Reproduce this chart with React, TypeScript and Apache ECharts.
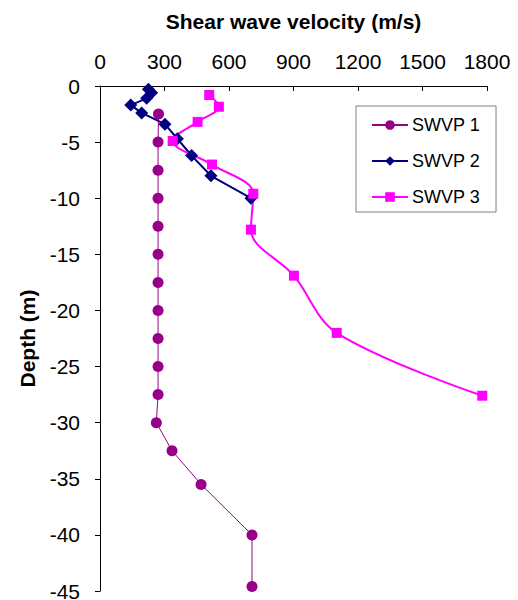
import React, { useEffect, useRef } from "react";
import * as echarts from "echarts";

const seriesNames = ["SWVP 1", "SWVP 2", "SWVP 3"];

// [velocity (m/s), depth (m)]
const swvp1: [number, number][] = [
  [272, -2.5], [270, -5], [270, -7.5], [270, -10], [270, -12.5], [270, -15],
  [270, -17.5], [270, -20], [270, -22.5], [270, -25], [270, -27.5], [262, -30],
  [335, -32.5], [470, -35.5], [707, -40], [707, -44.6],
];

const swvp2: [number, number][] = [
  [225, -0.3], [240, -0.6], [217, -1.1], [143, -1.7], [194, -2.4], [302, -3.4],
  [360, -4.7], [426, -6.2], [516, -8.0], [702, -10.0],
];

const swvp3: [number, number][] = [
  [508, -0.8], [553, -1.85], [454, -3.2], [338, -4.9], [521, -7.0], [713, -9.6],
  [702, -12.8], [902, -16.9], [1101, -22.0], [1778, -27.6],
];

const xTicks = { min: 0, max: 1800, interval: 300 };
const yTicks = { min: -45, max: 0, interval: 5 };

const FONT = "'Liberation Sans', Arial, sans-serif";

export default function App() {
  const ref = useRef<HTMLDivElement>(null);
  useEffect(() => {
    document.body.style.margin = "0";
    const chart = echarts.init(ref.current!, null, { renderer: "svg" });
    chart.setOption({
      animation: false,
      backgroundColor: "#ffffff",
      textStyle: { fontFamily: FONT },
      grid: {
        left: 100,
        right: 31,
        top: 86,
        bottom: 9,
        containLabel: false,
        outerBoundsMode: "none",
      },
      legend: {
        orient: "vertical",
        left: 356,
        top: 106,
        padding: [10, 16, 6, 15],
        itemGap: 18,
        itemWidth: 36,
        itemHeight: 12,
        borderColor: "#808080",
        borderWidth: 1,
        backgroundColor: "#ffffff",
        textStyle: { fontSize: 18, color: "#000", fontFamily: FONT, padding: [0, 0, 0, -1] },
        data: seriesNames,
      },
      xAxis: {
        type: "value",
        position: "top",
        min: xTicks.min,
        max: xTicks.max,
        interval: xTicks.interval,
        name: "Shear wave velocity (m/s)",
        nameLocation: "middle",
        nameGap: 54,
        nameTextStyle: { fontSize: 21, fontWeight: "bold", color: "#000", fontFamily: FONT },
        axisLine: { show: true, lineStyle: { color: "#000", width: 1 } },
        axisTick: { show: true, inside: true, length: 5, lineStyle: { color: "#000" } },
        axisLabel: {
          fontSize: 21,
          color: "#000",
          margin: 14,
          fontFamily: FONT,
          formatter: (v: number) => String(v),
        },
        splitLine: { show: false },
      },
      yAxis: {
        type: "value",
        min: yTicks.min,
        max: yTicks.max,
        interval: yTicks.interval,
        name: "Depth (m)",
        nameLocation: "middle",
        nameRotate: 90,
        nameGap: 62,
        nameTextStyle: { fontSize: 21, fontWeight: "bold", color: "#000", fontFamily: FONT },
        axisLine: { show: true, onZero: false, lineStyle: { color: "#000", width: 1 } },
        axisTick: { show: true, inside: false, length: 5, lineStyle: { color: "#000" } },
        axisLabel: {
          fontSize: 21,
          color: "#000",
          margin: 20,
          fontFamily: FONT,
          formatter: (v: number) => String(v),
        },
        splitLine: { show: false },
      },
      series: [
        {
          name: seriesNames[0],
          type: "line",
          data: swvp1,
          symbol: "circle",
          symbolSize: 11,
          itemStyle: { color: "#990088" },
          lineStyle: { color: "#990088", width: 1 },
        },
        {
          name: seriesNames[1],
          type: "line",
          data: swvp2,
          symbol: "diamond",
          symbolSize: 13,
          itemStyle: { color: "#000080" },
          lineStyle: { color: "#000080", width: 2 },
        },
        {
          name: seriesNames[2],
          type: "line",
          data: swvp3,
          symbol: "rect",
          symbolSize: 10,
          smooth: 0.35,
          itemStyle: { color: "#ff00ff" },
          lineStyle: { color: "#ff00ff", width: 2 },
        },
      ],
    });
    return () => chart.dispose();
  }, []);
  return <div ref={ref} style={{ width: 518, height: 600 }} />;
}
